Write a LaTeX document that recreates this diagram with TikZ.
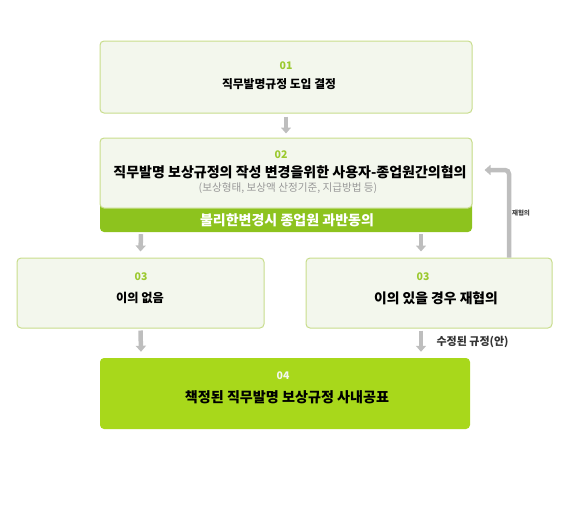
\documentclass[tikz,border=0pt]{standalone}
\usepackage{fontspec}
\setmainfont{Noto Sans CJK KR}
\usetikzlibrary{arrows.meta}
\definecolor{cpale}{RGB}{243,247,237}
\definecolor{cedge}{RGB}{200,221,140}
\definecolor{cband}{RGB}{141,195,30}
\definecolor{clime}{RGB}{168,216,27}
\definecolor{cnum}{RGB}{155,201,46}
\definecolor{carrow}{RGB}{190,190,190}
\tikzset{stepbox/.style={draw=cedge,fill=cpale,rounded corners=4pt,line width=1pt,inner sep=0pt},
         bandbox/.style={fill=cband,rounded corners=4pt,inner sep=0pt},
         limebox/.style={fill=clime,rounded corners=4pt,inner sep=0pt},
         numtxt/.style={text=cnum,font=\fontsize{10.5}{12}\selectfont\bfseries},
         titletxt/.style={font=\fontsize{11.5}{14}\selectfont\bfseries},
         garrow/.style={carrow,line width=4.5pt,-{Triangle[width=10pt,length=6pt]}}}
\begin{document}
\begin{tikzpicture}[x=1pt,y=-1pt]
    \useasboundingbox (0,0) rectangle (575,517);
    % boxes
    \node[stepbox,minimum width=372,minimum height=72] (b1) at (286,77) {};
    \node[bandbox,minimum width=372,minimum height=94] (b2g) at (286,185) {};
    \node[stepbox,minimum width=372,minimum height=70] (b2) at (286,173) {};
    \node[stepbox,minimum width=247,minimum height=70] (b3l) at (140.5,293) {};
    \node[stepbox,minimum width=246,minimum height=70] (b3r) at (429,293) {};
    \node[limebox,minimum width=370,minimum height=71] (b4) at (285,393.5) {};
    % texts
    \node[numtxt] (n1) at (286,66) {01};
    \node[titletxt,font=\fontsize{11.8}{14}\selectfont\bfseries] (t1) at (279,84) {직무발명규정 도입 결정};
    \node[numtxt] (n2) at (281,155) {02};
    \node[titletxt,font=\fontsize{14}{16}\selectfont\bfseries] (t2) at (290,172) {직무발명 보상규정의 작성 변경을위한 사용자-종업원간의협의};
    \node[text=black!40,font=\fontsize{10.6}{12}\selectfont] (s2) at (288,188) {(보상형태, 보상액 산정기준, 지급방법 등)};
    \node[text=white,font=\fontsize{14}{16}\selectfont\bfseries] (g2) at (287,220) {불리한변경시 종업원 과반동의};
    \node[numtxt] (n3l) at (141,277) {03};
    \node[titletxt,font=\fontsize{12.2}{14}\selectfont\bfseries] (t3l) at (140,298) {이의 없음};
    \node[numtxt] (n3r) at (423,277) {03};
    \node[titletxt,font=\fontsize{13.8}{16}\selectfont\bfseries] (t3r) at (436,298) {이의 있을 경우 재협의};
    \node[text=cpale,font=\fontsize{10.5}{12}\selectfont\bfseries] (n4) at (283,376) {04};
    \node[titletxt,font=\fontsize{14.1}{16}\selectfont\bfseries] (t4) at (287,397) {책정된 직무발명 보상규정 사내공표};
    % arrows
    \draw[garrow] ([yshift=-3]b1.south) -- ([yshift=4]b2.north);
    \draw[garrow] ([xshift=-145,yshift=-2]b2g.south) -- ([yshift=6]b3l.north);
    \draw[garrow] ([xshift=135,yshift=-2]b2g.south) -- ([xshift=-8,yshift=6]b3r.north);
    \draw[garrow] ([yshift=-2]b3l.south) -- ([xshift=-144,yshift=6]b4.north);
    \draw[garrow] ([xshift=-8,yshift=-2]b3r.south) -- ([xshift=136,yshift=6]b4.north);
    \coordinate (fb) at (509,170);
    \draw[garrow,rounded corners=4pt] ([xshift=80]b3r.north) -- (fb) -- ([xshift=12]b2.east |- fb);
    \node[font=\fontsize{6.5}{7}\selectfont\bfseries,text=black!75] (l1) at (521,213) {재협의};
    \node[font=\fontsize{11}{12}\selectfont\bfseries,text=black!80,anchor=west] (l2) at (433,342) {수정된 규정(안)};
\end{tikzpicture}
\end{document}
